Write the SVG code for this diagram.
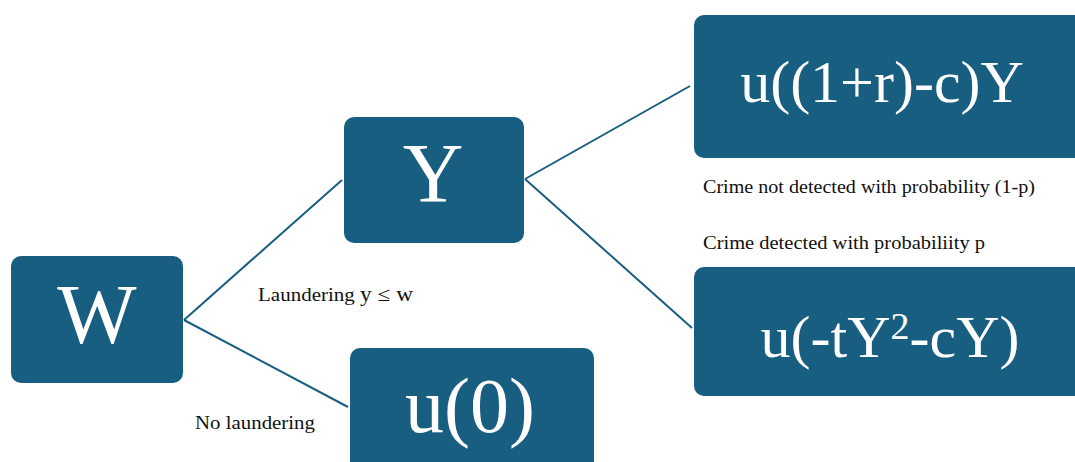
<svg xmlns="http://www.w3.org/2000/svg" width="1075" height="462" viewBox="0 0 1075 462">
<style>
.box{fill:#175e80}
.big{font-family:"Liberation Serif","DejaVu Serif",serif;fill:#ffffff;text-anchor:middle}
.lbl{font-family:"Liberation Serif","DejaVu Serif",serif;font-size:18px;fill:#111111}
.conn line{stroke:#175e80;stroke-width:2}
</style>
<rect width="1075" height="462" fill="#ffffff"/>
<g class="conn" id="connectors">
<line x1="184" y1="320" x2="342" y2="180"/>
<line x1="184" y1="320" x2="348" y2="407"/>
<line x1="525" y1="179" x2="690" y2="86"/>
<line x1="525" y1="179" x2="692" y2="328"/>
</g>
<g id="node-W"><rect class="box" x="11" y="256" width="172" height="127" rx="10"/><text class="big" x="97" y="343" font-size="84">W</text></g>
<g id="node-Y"><rect class="box" x="344" y="117" width="180" height="126" rx="10"/><text class="big" x="433" y="202" font-size="84">Y</text></g>
<g id="node-u0"><rect class="box" x="350" y="348" width="244" height="130" rx="10"/><text class="big" x="470" y="432" font-size="78">u(0)</text></g>
<g id="node-top"><rect class="box" x="694" y="15" width="400" height="143" rx="10"/><text class="big" x="882" y="102" font-size="60">u((1+r)-c)Y</text></g>
<g id="node-bottom"><rect class="box" x="694" y="267" width="400" height="129" rx="10"/><text class="big" x="890" y="357" font-size="60">u(-tY<tspan font-size="38" dy="-18">2</tspan><tspan dy="18">-cY)</tspan></text></g>
<g id="labels">
<text class="lbl" x="258" y="301" textLength="155" lengthAdjust="spacingAndGlyphs">Laundering <tspan font-size="20">y ≤ w</tspan></text>
<text class="lbl" x="195" y="429" textLength="120" lengthAdjust="spacingAndGlyphs">No laundering</text>
<text class="lbl" x="703" y="193" textLength="332" lengthAdjust="spacingAndGlyphs">Crime not detected with probability (1-p)</text>
<text class="lbl" x="703" y="249" textLength="282" lengthAdjust="spacingAndGlyphs">Crime detected with probabiliity p</text>
</g>
</svg>
